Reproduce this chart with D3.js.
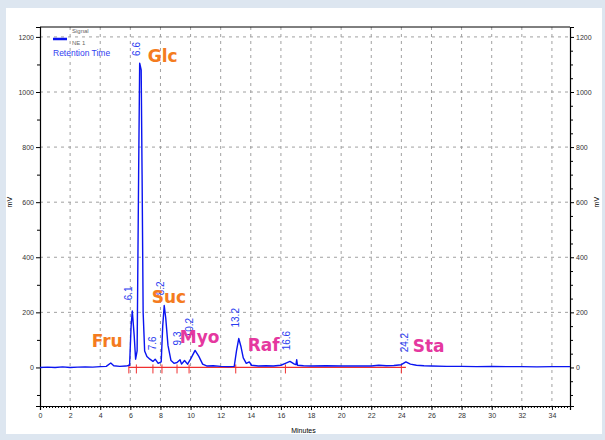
<!DOCTYPE html>
<html>
<head>
<meta charset="utf-8">
<script src="https://cdn.jsdelivr.net/npm/d3@7"></script>
<style>
  body { margin: 0; background: #dde6f0; }
  svg { display: block; }
</style>
</head>
<body>
<div id="chart"></div>
<script>
// chromatogram trace: [minutes, mV]
const traceTimes = [0, 0.5, 1, 1.5, 2, 2.5, 3, 3.5, 4, 4.4, 4.7, 4.9, 5.3, 5.7, 5.95,
  6.05, 6.13, 6.25, 6.35, 6.45, 6.55, 6.62, 6.72, 6.78, 6.85, 6.95, 7.1, 7.3, 7.5, 7.65,
  7.85, 8.05, 8.15, 8.25, 8.35, 8.5, 8.7, 8.9, 9.1, 9.3, 9.4, 9.6, 9.8, 10.0, 10.3,
  10.55, 10.8, 11.1, 11.5, 12, 12.5, 12.9, 13.05, 13.2, 13.35, 13.5, 13.7, 13.9, 14.05,
  14.5, 15, 15.5, 16, 16.3, 16.6, 16.9, 17.0, 17.05, 17.1, 17.5, 18, 19, 20, 21, 22,
  22.5, 23, 23.5, 24, 24.3, 24.6, 25, 25.5, 26, 27, 28, 29, 30, 31, 32, 33, 34, 35.2];
const traceValues = [0, 1, 0, 2, 0, 1, 2, 1, 3, 4, 16, 6, 4, 5, 8,
  150, 205, 120, 30, 60, 700, 1105, 1080, 700, 200, 60, 40, 30, 22, 30,
  15, 20, 150, 225, 180, 80, 25, 15, 18, 28, 12, 25, 12, 30, 62,
  40, 12, 5, 6, 4, 3, 4, 60, 105, 75, 35, 15, 20, 8,
  5, 6, 5, 8, 15, 22, 12, 10, 28, 8, 6, 5, 6, 5, 5, 5,
  8, 6, 7, 10, 20, 12, 8, 6, 5, 4, 4, 3, 4, 3, 3, 2, 3, 3];

// integration baseline marks (minutes)
const baselineStart = 5.9;
const baselineEnd = 24.3;
const baselineMarks = [5.9, 6.4, 7.5, 8.1, 9.1, 9.9, 13.0, 16.3, 24.0];

// retention time labels
const rtLabels = ['6.6', '6.1', '8.2', '7.6', '9.3', '10.2', '13.2', '16.6', '24.2'];
const rtLabelTimes = [6.42, 5.89, 8.01, 7.45, 9.11, 9.94, 13.0, 16.38, 24.2];
const rtLabelValues = [1131, 244, 262, 62, 80, 109, 145, 62, 55];

// compound names
const compounds = ['Glc', 'Suc', 'Fru', 'Myo', 'Raf', 'Sta'];
const compoundTimes = [7.16, 7.42, 3.43, 9.28, 13.79, 24.75];
const compoundValues = [1109, 233, 76, 87, 58, 55];
const compoundColors = ['#f47b20', '#f47b20', '#f47b20', '#e5389f', '#e5389f', '#e5389f'];

const xTicks = d3.range(0, 35, 2);
const yTicks = [0, 200, 400, 600, 800, 1000, 1200];

const width = 605, height = 440;
const margin = {left: 40, right: 35, top: 27, bottom: 34};

const svg = d3.select('#chart').append('svg')
    .attr('width', width)
    .attr('height', height);

svg.append('rect')
    .attr('x', 6).attr('y', 8)
    .attr('width', 596).attr('height', 426)
    .attr('fill', '#fff');

const x = d3.scaleLinear()
    .domain([0, 35.2])
    .range([margin.left, width - margin.right]);
const y = d3.scaleLinear()
    .domain([-140, 1236])
    .range([height - margin.bottom, margin.top]);

// grid
const grid = svg.append('g')
    .attr('stroke', '#a0a0a0')
    .attr('stroke-dasharray', '3,4')
    .attr('stroke-width', 1);
grid.selectAll('line.v')
    .data(xTicks.filter(d => d > 0))
    .enter().append('line')
    .attr('x1', d => x(d)).attr('x2', d => x(d))
    .attr('y1', y.range()[1]).attr('y2', y.range()[0]);
grid.selectAll('line.h')
    .data(yTicks.filter(d => d > 0))
    .enter().append('line')
    .attr('x1', x.range()[0]).attr('x2', x.range()[1])
    .attr('y1', d => y(d)).attr('y2', d => y(d));

// axes
const tickFont = g => g.selectAll('text')
    .attr('font-family', 'Liberation Sans, Arial, sans-serif')
    .attr('font-size', 7)
    .attr('fill', '#333');

const xMinor = d3.range(0, 35.2, 0.2);
svg.append('g')
    .attr('transform', 'translate(0,' + y.range()[0] + ')')
    .call(d3.axisBottom(x).tickValues(xMinor).tickSize(2).tickFormat(''))
    .call(g => g.select('.domain').remove());
svg.append('g')
    .attr('transform', 'translate(0,' + y.range()[0] + ')')
    .call(d3.axisBottom(x).tickValues(xTicks).tickSize(4).tickPadding(3).tickFormat(d3.format('d')))
    .call(tickFont);

const yMinor = d3.range(-100, 1236, 100).filter(d => d % 200 !== 0);
svg.append('g')
    .attr('transform', 'translate(' + x.range()[0] + ',0)')
    .call(d3.axisLeft(y).tickValues(yMinor).tickSize(3).tickFormat(''))
    .call(g => g.select('.domain').remove());
svg.append('g')
    .attr('transform', 'translate(' + x.range()[0] + ',0)')
    .call(d3.axisLeft(y).tickValues(yTicks).tickSize(4).tickPadding(2).tickFormat(d3.format('d')))
    .call(tickFont);

const yMinorR = d3.range(-100, 1236, 50).filter(d => d % 200 !== 0);
svg.append('g')
    .attr('transform', 'translate(' + x.range()[1] + ',0)')
    .call(d3.axisRight(y).tickValues(yMinorR).tickSize(3).tickFormat(''))
    .call(g => g.select('.domain').remove());
svg.append('g')
    .attr('transform', 'translate(' + x.range()[1] + ',0)')
    .call(d3.axisRight(y).tickValues(yTicks).tickSize(4).tickPadding(2).tickFormat(d3.format('d')))
    .call(tickFont);

// top border
svg.append('line')
    .attr('x1', x.range()[0]).attr('x2', x.range()[1])
    .attr('y1', y.range()[1]).attr('y2', y.range()[1])
    .attr('stroke', '#000');

svg.selectAll('.domain').attr('stroke', '#000').attr('stroke-width', 1.2);

// axis titles
svg.append('text')
    .attr('transform', 'translate(12,' + y(600) + ')rotate(-90)')
    .attr('text-anchor', 'middle')
    .attr('font-family', 'Liberation Sans, Arial, sans-serif')
    .attr('font-size', 7)
    .text('mV');
svg.append('text')
    .attr('transform', 'translate(599,' + y(600) + ')rotate(-90)')
    .attr('text-anchor', 'middle')
    .attr('font-family', 'Liberation Sans, Arial, sans-serif')
    .attr('font-size', 7)
    .text('mV');
svg.append('text')
    .attr('x', x(17.5)).attr('y', 433)
    .attr('text-anchor', 'middle')
    .attr('font-family', 'Liberation Sans, Arial, sans-serif')
    .attr('font-size', 7)
    .text('Minutes');

// integration baseline
svg.append('line')
    .attr('x1', x(baselineStart)).attr('x2', x(baselineEnd))
    .attr('y1', y(0)).attr('y2', y(0))
    .attr('stroke', '#f03030')
    .attr('stroke-width', 1.2);
svg.selectAll('line.mark')
    .data(baselineMarks)
    .enter().append('line')
    .attr('class', 'mark')
    .attr('x1', d => x(d)).attr('x2', d => x(d))
    .attr('y1', y(0) - 3).attr('y2', y(0) + 6)
    .attr('stroke', '#f03030')
    .attr('stroke-width', 1);

// trace
const points = traceTimes.map((t, i) => [t, traceValues[i]]);
svg.append('path')
    .datum(points)
    .attr('fill', 'none')
    .attr('stroke', '#0a14f0')
    .attr('stroke-width', 1.4)
    .attr('stroke-linejoin', 'round')
    .attr('d', d3.line().x(d => x(d[0])).y(d => y(d[1])));

// retention time labels
svg.selectAll('text.rt')
    .data(rtLabels)
    .enter().append('text')
    .attr('class', 'rt')
    .attr('transform', (d, i) => 'translate(' + (x(rtLabelTimes[i]) + 3.5) + ',' + y(rtLabelValues[i]) + ')rotate(-90)')
    .attr('font-family', 'Liberation Sans Narrow, Liberation Sans, Arial, sans-serif')
    .attr('font-size', 10)
    .attr('fill', '#2a3cf0')
    .text(d => d);

// compound names
svg.selectAll('text.cmp')
    .data(compounds)
    .enter().append('text')
    .attr('class', 'cmp')
    .attr('x', (d, i) => x(compoundTimes[i]))
    .attr('y', (d, i) => y(compoundValues[i]))
    .attr('font-family', 'DejaVu Sans, sans-serif')
    .attr('font-weight', 'bold')
    .attr('font-size', 17)
    .attr('fill', (d, i) => compoundColors[i])
    .text(d => d);

// legend
const legend = svg.append('g')
    .attr('font-family', 'Liberation Sans, Arial, sans-serif');
legend.append('line')
    .attr('x1', 53).attr('x2', 67)
    .attr('y1', 39).attr('y2', 39)
    .attr('stroke', '#0a14f0')
    .attr('stroke-width', 2.5);
legend.append('text')
    .attr('x', 72).attr('y', 33)
    .attr('font-size', 6)
    .attr('fill', '#666')
    .text('Signal');
legend.append('text')
    .attr('x', 72).attr('y', 45)
    .attr('font-size', 6)
    .attr('fill', '#666')
    .text('NE 1');
legend.append('text')
    .attr('x', 53).attr('y', 56)
    .attr('font-size', 8.5)
    .attr('fill', '#3040f0')
    .text('Retention Time');
</script>
</body>
</html>
